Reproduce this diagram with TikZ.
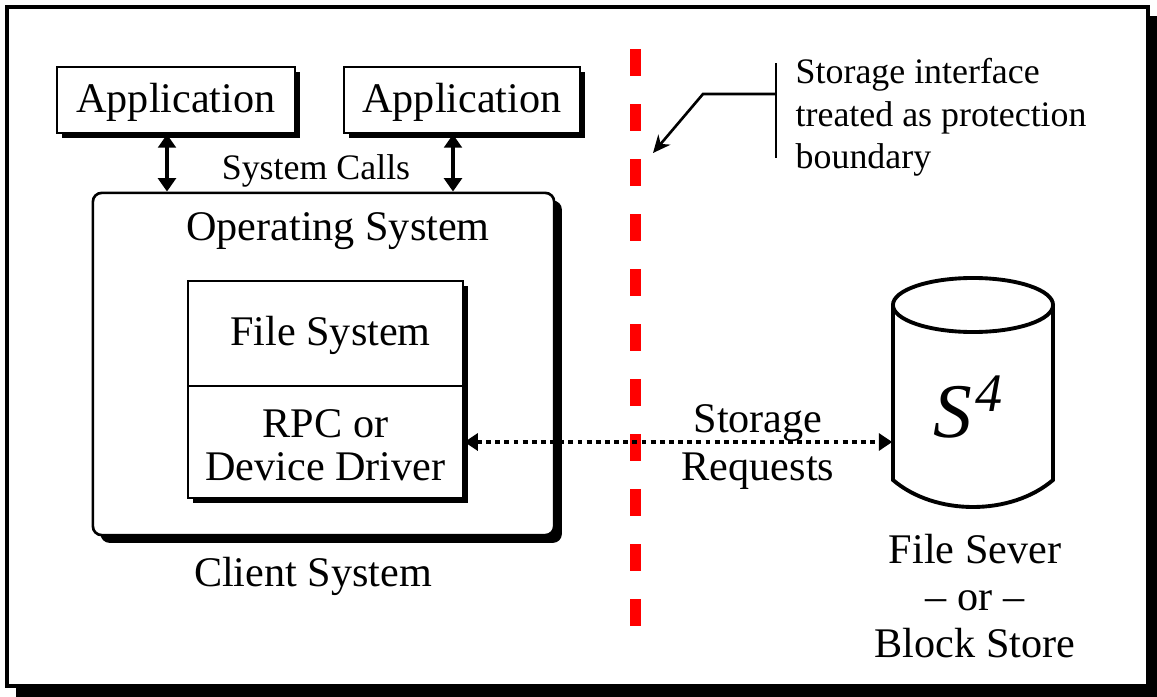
\documentclass[tikz,border=0pt]{standalone}
\usepackage{fontspec}
\setmainfont{Liberation Serif}
\usetikzlibrary{arrows.meta,shadows}
\tikzset{
	box/.style={draw, line width=0.75pt, fill=white, inner sep=0pt},
	boxshadow/.style={drop shadow={shadow xshift=#1, shadow yshift=-#1, opacity=1, fill=black}},
	bigtext/.style={font=\fontsize{12}{12.2}\selectfont},
	smalltext/.style={font=\fontsize{10.2}{12}\selectfont},
	call/.style={{Triangle[length=3.8pt,width=5pt]}-{Triangle[length=3.8pt,width=5pt]}, line width=1pt},
	request/.style={{Triangle[length=3.8pt,width=4.8pt]}-{Triangle[length=3.8pt,width=4.8pt]}, line width=0.95pt, dash pattern=on 1.4pt off 1.2pt},
}
\begin{document}
\begin{tikzpicture}[x=0.01cm, y=-0.01cm]
			%%%%% START %%%%%
			\useasboundingbox (0,0) rectangle (1157,697);
			
			\fill[black] (16,16) rectangle (1157,697);
			\draw[line width=0.9pt, fill=white] (7,7) rectangle (1148,686);
			
			\node[box, boxshadow=1.5pt, bigtext, text height=9.9pt, text depth=2.6pt, minimum width=2.38cm, minimum height=0.66cm] (app1) at (176,100) {Application};
			\node[box, boxshadow=1.5pt, bigtext, text height=9.9pt, text depth=2.6pt, minimum width=2.36cm, minimum height=0.66cm] (app2) at (462,100) {Application};
			
			\node[box, boxshadow=2.2pt, rounded corners=2.5pt, minimum width=4.61cm, minimum height=3.42cm] (os) at (323.5,364) {};
			\node[bigtext] (oslabel) at (338,231) {Operating System};
			
			\node[box, boxshadow=1.5pt, bigtext, text height=9.4pt, text depth=2.6pt, minimum width=2.75cm, minimum height=1.05cm] (fs) at (325.5,333.5) {\hspace{0.1cm}File System};
			\node[box, boxshadow=1.5pt, bigtext, align=center, minimum width=2.75cm, minimum height=1.12cm] (rpc) at (325.5,442) {\rule{0pt}{9.9pt}RPC or\\Device Driver};
			
			\draw[call] ([xshift=-0.09cm]app1.south) -- ([xshift=-0.09cm]app1.south |- os.north);
			\draw[call] ([xshift=-0.09cm]app2.south) -- ([xshift=-0.09cm]app2.south |- os.north);
			\node[smalltext] (calls) at (316,171) {System Calls};
			
			\node[bigtext] (client) at (313,576) {Client System};
			
			\draw[red, line width=3pt, dash pattern=on 0.27cm off 0.28cm] (635.5,49) -- (635.5,626);
			
			\node[smalltext, align=left, anchor=north west, inner sep=0pt] (note) at (795,58) {Storage interface\\treated as protection\\boundary};
			\coordinate (bartop) at (776,63);
			\coordinate (barbot) at (776,158);
			\coordinate (bend) at (703,94);
			\coordinate (tip) at (653,153);
			\draw[line width=0.75pt] (bartop) -- (barbot);
			\draw[line width=0.75pt, -{Stealth[length=5pt,width=4.5pt]}] (bartop |- bend) -- (bend) -- (tip);
			
			\node[inner sep=0pt, minimum width=1.6cm, minimum height=2.02cm] (s4) at (973,406) {};
			\draw[line width=1.1pt] (973,305) ellipse [x radius=0.8cm, y radius=0.27cm];
			\draw[line width=1.1pt] (893,305) -- (893,480) .. controls (935,516) and (1011,516) .. (1053,480) -- (1053,305);
			\node[font=\fontsize{22}{24}\selectfont] (s4label) at (969,407) {\textit{S\kern1pt\textsuperscript{4}}};
			
			\draw[request] (rpc.east) -- (rpc.east -| s4.west);
			\node[font=\fontsize{12}{13.7}\selectfont, align=center] (req) at (758,447) {Storage\\Requests};
			
			\node[font=\fontsize{12}{13.4}\selectfont, align=center] (server) at (975,596) {File Sever\\– or –\\Block Store};
			%%%%% END %%%%%
\end{tikzpicture}
\end{document}
